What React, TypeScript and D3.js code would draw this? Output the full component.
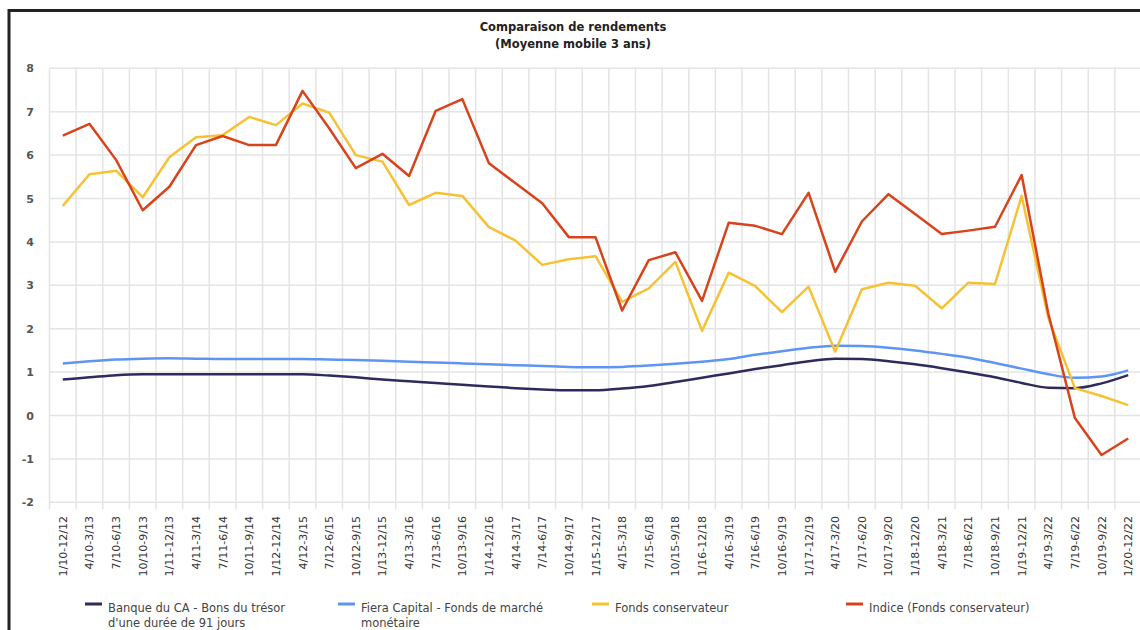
import React from "react";
import * as d3 from "d3";

const categories = [
  "1/10-12/12","4/10-3/13","7/10-6/13","10/10-9/13","1/11-12/13","4/11-3/14","7/11-6/14","10/11-9/14",
  "1/12-12/14","4/12-3/15","7/12-6/15","10/12-9/15","1/13-12/15","4/13-3/16","7/13-6/16","10/13-9/16",
  "1/14-12/16","4/14-3/17","7/14-6/17","10/14-9/17","1/15-12/17","4/15-3/18","7/15-6/18","10/15-9/18",
  "1/16-12/18","4/16-3/19","7/16-6/19","10/16-9/19","1/17-12/19","4/17-3/20","7/17-6/20","10/17-9/20",
  "1/18-12/20","4/18-3/21","7/18-6/21","10/18-9/21","1/19-12/21","4/19-3/22","7/19-6/22","10/19-9/22",
  "1/20-12/22",
];

const banqueCA = [
  0.83,0.88,0.93,0.95,0.95,0.95,0.95,0.95,0.95,0.95,0.92,0.88,0.83,0.79,0.75,0.71,
  0.67,0.63,0.60,0.58,0.58,0.62,0.68,0.77,0.87,0.97,1.07,1.16,1.25,1.31,1.30,1.25,
  1.18,1.09,0.99,0.88,0.75,0.64,0.63,0.74,0.93,
];

const fiera = [
  1.20,1.25,1.29,1.31,1.32,1.31,1.30,1.30,1.30,1.30,1.29,1.28,1.26,1.24,1.22,1.20,
  1.18,1.16,1.14,1.12,1.11,1.12,1.15,1.19,1.24,1.30,1.40,1.48,1.56,1.61,1.60,1.56,
  1.50,1.42,1.33,1.21,1.08,0.95,0.87,0.90,1.04,
];

const fondsConservateur = [
  4.83,5.56,5.64,5.03,5.95,6.41,6.46,6.88,6.69,7.19,6.98,6.00,5.85,4.85,5.13,5.06,
  4.34,4.03,3.47,3.60,3.67,2.62,2.93,3.54,1.95,3.29,2.98,2.38,2.97,1.47,2.91,3.06,
  2.99,2.47,3.06,3.03,5.06,2.25,0.63,0.45,0.24,
];

const indice = [
  6.45,6.72,5.89,4.73,5.27,6.23,6.44,6.23,6.23,7.48,6.62,5.70,6.03,5.52,7.02,7.29,
  5.81,5.35,4.89,4.11,4.11,2.42,3.58,3.76,2.64,4.44,4.37,4.18,5.13,3.31,4.47,5.10,
  4.64,4.18,4.26,4.35,5.54,2.35,-0.06,-0.91,-0.53,
];

const yTicks = [8, 7, 6, 5, 4, 3, 2, 1, 0, -1, -2];

const seriesNames = [
  ["Banque du CA - Bons du trésor", "d'une durée de 91 jours"],
  ["Fiera Capital - Fonds de marché", "monétaire"],
  ["Fonds conservateur"],
  ["Indice (Fonds conservateur)"],
];
const seriesColors = ["#2d2b5c", "#5f95f2", "#f6c234", "#d8431c"];
const seriesData = [banqueCA, fiera, fondsConservateur, indice];
const seriesSmooth = [true, true, false, false];
const legendX = [85, 338, 592, 846];

export default function App() {
  const W = 1140, H = 630;
  const left = 49.5, right = 1141.5, top = 68.3, bottom = 502.3;
  const x = d3.scaleBand<string>().domain(categories).range([left, right]).padding(0);
  const y = d3.scaleLinear().domain([-2, 8]).range([bottom, top]);
  const cx = (i: number) => (x(categories[i]) as number) + x.bandwidth() / 2;
  const font = "'DejaVu Sans', Verdana, sans-serif";

  const boundaries = categories.map((c) => x(c) as number).concat([right]);

  return (
    <svg
      width={W}
      height={H}
      viewBox={`0 0 ${W} ${H}`}
      style={{ position: "absolute", left: 0, top: 0, background: "#fff" }}
      fontFamily={font}
    >
      <rect x={0} y={0} width={W} height={H} fill="#fff" />
      <rect x={9} y={10.5} width={1140} height={640} fill="none" stroke="#222" strokeWidth={3} />

      <text x={573} y={31} textAnchor="middle" fontSize={11.5} fontWeight="bold" fill="#222">
        Comparaison de rendements
      </text>
      <text x={573} y={48} textAnchor="middle" fontSize={11.5} fontWeight="bold" fill="#222">
        (Moyenne mobile 3 ans)
      </text>

      {/* horizontal grid */}
      {yTicks.map((t) => (
        <line key={"h" + t} x1={left} x2={right} y1={y(t)} y2={y(t)} stroke="#e4e4e4" strokeWidth={1.5} />
      ))}
      {/* vertical grid */}
      {boundaries.map((b, i) => (
        <line key={"v" + i} x1={b} x2={b} y1={top} y2={bottom + 7} stroke="#e4e4e4" strokeWidth={1.5} />
      ))}

      {/* y labels */}
      {yTicks.map((t) => (
        <text key={"yl" + t} x={34} y={y(t) + 4} textAnchor="end" fontSize={11} fontWeight="bold" fill="#555">
          {t}
        </text>
      ))}

      {/* x labels */}
      {categories.map((c, i) => (
        <text
          key={"xl" + c}
          transform={`translate(${cx(i) + 4},516) rotate(-90)`}
          textAnchor="end"
          fontSize={11}
          fill="#333"
        >
          {c}
        </text>
      ))}

      {/* series */}
      {seriesData.map((vals, si) => {
        const gen = d3
          .line<number>()
          .x((_, i) => cx(i))
          .y((v) => y(v))
          .curve(seriesSmooth[si] ? d3.curveMonotoneX : d3.curveLinear);
        return (
          <path
            key={"s" + si}
            d={gen(vals) || ""}
            fill="none"
            stroke={seriesColors[si]}
            strokeWidth={2.5}
            strokeLinejoin="round"
          />
        );
      })}

      {/* legend */}
      {seriesNames.map((lines, si) => (
        <g key={"lg" + si}>
          <line x1={legendX[si]} x2={legendX[si] + 17} y1={604} y2={604} stroke={seriesColors[si]} strokeWidth={3} />
          {lines.map((ln, li) => (
            <text key={li} x={legendX[si] + 23} y={612 + li * 15} fontSize={11.5} fill="#444">
              {ln}
            </text>
          ))}
        </g>
      ))}
    </svg>
  );
}
